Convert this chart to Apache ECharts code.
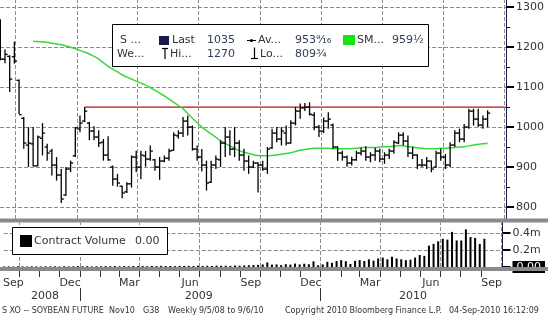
<!DOCTYPE html>
<html><head><meta charset="utf-8">
<script src="https://cdn.jsdelivr.net/npm/echarts@6/dist/echarts.min.js"></script>
<style>html,body{margin:0;padding:0;background:#fff}#c{width:548px;height:316px}</style>
</head><body><div id="c"></div>
<script>
// ---------- data (weekly bars, Soybean future Nov10) ----------
const firstWeek = '2008-09-08';
const opens = [
 1255,1170,1177,1176,1117,1022,955,958,903,972,
 950,940,905,880,830,895,928,995,1015,1010,
 990,975,962,930,900,870,852,838,858,925,
 900,928,920,918,900,915,922,942,978,985,
 1015,1000,945,925,905,862,905,918,960,975,
 945,960,930,915,900,910,905,895,948,985,
 970,985,960,1010,1040,1048,1050,1030,1000,990,
 1015,1005,950,935,925,910,918,935,940,925,
 930,940,920,930,940,960,980,965,935,930,
 905,905,915,900,935,925,905,955,985,970,
 1000,1040,1020,1005,1020];
const highs = [
 1270,1194,1180,1214,1119,1025,1000,1000,979,1010,
 958,946,925,895,900,916,1000,1029,1050,1013,
 1002,992,970,977,904,883,853,862,929,941,
 941,940,954,920,925,929,946,987,992,1025,
 1029,1004,954,945,916,916,929,967,1000,992,
 1000,967,946,929,916,912,916,950,996,1000,
 1000,1004,1017,1050,1059,1060,1062,1037,1005,1024,
 1037,1009,952,941,929,926,941,948,952,937,
 948,946,937,946,967,987,987,979,950,932,
 920,925,916,941,946,933,962,992,996,1008,
 1046,1046,1046,1029,1042];
const lows = [
 1167,1160,1088,1159,1033,946,900,902,902,929,
 916,879,866,809.75,828,887,925,987,1013,967,
 967,950,916,916,853,851,822,835,849,887,
 870,901,916,891,868,912,916,941,971,975,
 979,941,916,889,841,860,895,900,925,929,
 925,916,891,883,898,836,891,883,945,962,
 954,954,958,1004,1021,1040,1029,992,975,985,
 996,946,916,916,901,904,916,929,916,912,
 916,912,908,920,933,958,954,925,920,895,
 900,895,887,898,916,895,900,950,962,962,
 996,1004,1000,996,1000];
const closes = [
 1170,1182,1120,1165,1031,960,960,903,975,985,
 935,905,880,820,895,910,998,1010,1040,990,
 975,960,930,918,870,860,835,858,925,900,
 930,920,940,900,915,922,940,980,985,1015,
 1000,945,925,905,860,905,920,960,975,945,
 960,930,915,900,910,905,895,945,985,970,
 990,960,1010,1040,1048,1050,1032,1000,990,1015,
 1020,950,935,925,910,918,935,940,925,930,
 940,920,930,940,962,980,965,935,930,905,
 905,915,895,935,925,905,955,985,970,1000,
 1040,1020,1005,1020,1035];
const sma = [
 null,null,null,null,null,null,null,1215,1214,1213,
 1212,1210,1208,1206,1203,1200,1196,1192,1188,1183,
 1177,1170,1161,1152,1145,1138,1131,1125,1120,1115,
 1110,1105,1099,1092,1085,1078,1070,1062,1054,1046,
 1034,1022,1011,1000,991,983,974,966,959,953,
 947,941,937,934,931,929,928,928,929,930,
 932,934,936,939,942,944,946,947,947,947,
 947,946,946,946,946,946,947,949,949,949,
 949,950,951,951,952,954,953,951,950,948,
 947,946,946,946,947,947,948,949,950,951,
 953,955,957,958,959.5];
const volume = [ // millions of contracts
 0.006,0.007,0.006,0.008,0.007,0.006,0.008,0.007,0.006,0.008,
 0.007,0.008,0.006,0.009,0.007,0.008,0.010,0.008,0.009,0.007,
 0.009,0.008,0.010,0.009,0.011,0.008,0.010,0.009,0.012,0.010,
 0.011,0.009,0.012,0.010,0.013,0.011,0.012,0.010,0.014,0.012,
 0.013,0.011,0.015,0.013,0.014,0.012,0.016,0.014,0.015,0.013,
 0.017,0.015,0.018,0.020,0.022,0.025,0.030,0.053,0.028,0.030,
 0.022,0.032,0.028,0.040,0.030,0.038,0.032,0.066,0.020,0.030,
 0.060,0.048,0.070,0.080,0.068,0.035,0.072,0.080,0.070,0.090,
 0.075,0.100,0.110,0.090,0.120,0.100,0.090,0.080,0.085,0.110,
 0.140,0.130,0.250,0.270,0.300,0.330,0.320,0.410,0.310,0.310,
 0.440,0.350,0.340,0.270,0.330];
const resistance = 1050;
const resistanceFromWeek = 18;

// axis ticks / labels
const quarterLines = ['2008-10-01','2009-01-01','2009-04-01','2009-07-01','2009-10-01','2010-01-01','2010-04-01','2010-07-01','2010-10-01'];
const monthTickDates = ['2008-10-01','2008-11-01','2008-12-01','2009-01-01','2009-02-01','2009-03-01','2009-04-01','2009-05-01','2009-06-01','2009-07-01','2009-08-01','2009-09-01','2009-10-01','2009-11-01','2009-12-01','2010-01-01','2010-02-01','2010-03-01','2010-04-01','2010-05-01','2010-06-01','2010-07-01','2010-08-01','2010-09-01'];
const monthLabelDates = ['2008-09-22','2008-12-17','2009-03-17','2009-06-17','2009-09-17','2009-12-17','2010-03-17','2010-06-17','2010-09-17'];
const monthLabels = ['Sep','Dec','Mar','Jun','Sep','Dec','Mar','Jun','Sep'];
const yearLabelDates = ['2008-11-09','2009-06-30','2010-05-21'];
const yearLabels = ['2008','2009','2010'];
const yearSeparators = ['2009-01-01','2010-01-01'];
const priceTicks = [800,900,1000,1100,1200,1300];
const priceMinorTicks = [850,950,1050,1150,1250];
const volumeTicks = [0,0.2,0.4];

// legend texts
const legendRow1 = {name:'S ...', last:'Last', lastVal:'1035', avg:'Av...', avgVal:'953⁹⁄₁₆', sma:'SM...', smaVal:'959½'};
const legendRow2 = {name:'We...', hi:'Hi...', hiVal:'1270', lo:'Lo...', loVal:'809¾'};
const volLegend = {name:'Contract Volume', val:'0.00'};
const footerParts = [
 ['S XO -- SOYBEAN FUTURE  Nov10', 2], ['G38', 143], ['Weekly', 168], ['9/5/08 to 9/6/10', 199],
 ['Copyright 2010 Bloomberg Finance L.P.', 285], ['04-Sep-2010 16:12:09', 449]];

// ---------- build ----------
const DAY = 86400000;
const ts = s => Date.parse(s + 'T00:00:00Z');
const dates = opens.map((_, i) => ts(firstWeek) + i * 7 * DAY);
const xMin = ts('2008-09-07') + DAY / 2;
const xMax = xMin + 756 * DAY;
const FONT = 'DejaVu Sans';
const TXT = '#333';
const dash = () => ({type:'dashed', dashOffset:0, color:'#8c8c8c', width:1, opacity:1});

const ohlcData = dates.map((d, i) => [d, opens[i], closes[i], lows[i], highs[i]]);
const smaData = dates.map((d, i) => [d, sma[i]]);
const volData = dates.map((d, i) => [d, volume[i]]);
const resistanceData = [[dates[resistanceFromWeek], resistance], [xMax, resistance]];
const monthLabelTs = monthLabelDates.map(ts);
const yearLabelTs = yearLabelDates.map(ts);

function renderOHLC(params, api) {
  const x = api.value(0);
  const o = api.coord([x, api.value(1)]);
  const c = api.coord([x, api.value(2)]);
  const l = api.coord([x, api.value(3)]);
  const h = api.coord([x, api.value(4)]);
  const st = {stroke:'#000', lineWidth:1.3};
  return {type:'group', children:[
    {type:'line', shape:{x1:h[0], y1:h[1], x2:l[0], y2:l[1]}, style:st},
    {type:'line', shape:{x1:o[0]-2.6, y1:o[1], x2:o[0], y2:o[1]}, style:st},
    {type:'line', shape:{x1:c[0], y1:c[1], x2:c[0]+2.6, y2:c[1]}, style:st}
  ]};
}

const VAL = '#2d3f55';
const t = (text, x, y, fill) => ({type:'text', x, y, z:110,
  style:{text, fill:fill || TXT, font:'11px ' + FONT, verticalAlign:'middle', align:'left'}});
const ln = (x1, y1, x2, y2, w) => ({type:'line', z:110, shape:{x1,y1,x2,y2}, style:{stroke:'#000', lineWidth:w || 1}});

const graphics = [
  {type:'rect', z:100, shape:{x:0, y:218.5, width:548, height:4}, style:{fill:'#8a8a8a'}},
  {type:'rect', z:100, shape:{x:0, y:267, width:548, height:4}, style:{fill:'#8a8a8a'}},
  // main legend
  {type:'rect', z:105, shape:{x:112.5, y:24.5, width:316, height:42}, style:{fill:'#fff', stroke:'#000', lineWidth:1}},
  t(legendRow1.name, 120, 40.5),
  {type:'rect', z:110, shape:{x:159, y:36, width:10, height:9}, style:{fill:'#1a1a48'}},
  t(legendRow1.last, 172, 40.5),
  t(legendRow1.lastVal, 207, 40.5, VAL),
  ln(247, 40.5, 256, 40.5, 1),
  {type:'circle', z:111, shape:{cx:251.5, cy:40.5, r:1.6}, style:{fill:'#000'}},
  t(legendRow1.avg, 258, 40.5),
  t(legendRow1.avgVal, 295, 40.5, VAL),
  {type:'rect', z:110, shape:{x:343, y:35, width:12, height:10}, style:{fill:'#11e611'}},
  t(legendRow1.sma, 357, 40.5),
  t(legendRow1.smaVal, 392, 40.5, VAL),
  t(legendRow2.name, 117, 54),
  ln(162, 48.5, 168, 48.5, 1.2), ln(165, 48.5, 165, 59, 1.2),
  t(legendRow2.hi, 170, 54),
  t(legendRow2.hiVal, 207, 54, VAL),
  ln(254.5, 47.5, 254.5, 58.5, 1.2), ln(251, 58.5, 258, 58.5, 1.2),
  t(legendRow2.lo, 260, 54),
  t(legendRow2.loVal, 295, 54, VAL),
  // volume legend
  {type:'rect', z:105, shape:{x:12.5, y:227.5, width:155, height:27}, style:{fill:'#fff', stroke:'#000', lineWidth:1}},
  {type:'rect', z:110, shape:{x:20, y:235, width:12, height:12}, style:{fill:'#000'}},
  t(volLegend.name, 34, 241.5),
  t(volLegend.val, 135, 241.5)
];
footerParts.forEach(([s, x]) => graphics.push({type:'text', x, y:311, z:110,
  style:{text:s, fill:TXT, font:'8px ' + FONT, verticalAlign:'middle', align:'left'}}));

const chart = echarts.init(document.getElementById('c'), null, {renderer:'canvas'});
chart.setOption({
  animation:false,
  backgroundColor:'#fff',
  grid:[
    {left:0, top:0, width:506, height:219, show:false},
    {left:0, top:222.5, width:506, height:44.5, show:false}
  ],
  xAxis:[
    {gridIndex:0, type:'value', min:xMin, max:xMax, axisLine:{show:false}, axisTick:{show:false}, axisLabel:{show:false}, splitLine:{show:false}},
    {gridIndex:1, type:'value', min:xMin, max:xMax, position:'bottom',
      axisLine:{show:false},
      axisTick:{show:true, customValues:monthTickDates.map(ts), length:10, lineStyle:{color:'#333'}},
      axisLabel:{show:true, customValues:monthLabelTs, margin:11, color:TXT, fontSize:11, fontFamily:FONT,
        formatter:(v, i) => { const k = monthLabelTs.indexOf(v); return monthLabels[k >= 0 ? k : i]; }},
      splitLine:{show:false}},
    {gridIndex:1, type:'value', min:xMin, max:xMax, position:'bottom', offset:21,
      axisLine:{show:false},
      axisTick:{show:true, customValues:yearSeparators.map(ts), length:13, lineStyle:{color:'#333'}},
      axisLabel:{show:true, customValues:yearLabelTs, margin:3, color:TXT, fontSize:11, fontFamily:FONT,
        formatter:(v, i) => { const k = yearLabelTs.indexOf(v); return yearLabels[k >= 0 ? k : i]; }},
      splitLine:{show:false}}
  ],
  yAxis:[
    {gridIndex:0, type:'value', position:'right', min:770, max:1318,
      axisLine:{show:true, lineStyle:{color:'#1c1c4c', width:1}},
      axisTick:{show:true, customValues:priceTicks, length:8, lineStyle:{color:'#000', width:2}},
      axisLabel:{show:true, customValues:priceTicks, margin:10, color:TXT, fontSize:11, fontFamily:FONT,
        formatter:v => String(v)},
      splitLine:{show:false}},
    {gridIndex:1, type:'value', position:'right', min:0, max:0.52,
      axisLine:{show:true, lineStyle:{color:'#1c1c4c', width:1}},
      axisTick:{show:true, customValues:volumeTicks, length:8, lineStyle:{color:'#000', width:2}},
      axisLabel:{show:true, customValues:volumeTicks, margin:10, color:TXT, fontSize:11, fontFamily:FONT,
        formatter:v => v === 0 ? '{tag|' + volLegend.val + '}' : v.toFixed(1) + 'm',
        rich:{tag:{backgroundColor:'#000', color:'#fff', fontSize:11, fontFamily:FONT, padding:[1,4,0,4]}}},
      splitLine:{show:false}},
    {gridIndex:0, type:'value', position:'right', min:770, max:1318,
      axisLine:{show:false},
      axisTick:{show:true, customValues:priceMinorTicks, length:4, lineStyle:{color:'#000', width:1}},
      axisLabel:{show:false}, splitLine:{show:false}}
  ],
  series:[
    {type:'custom', name:'Price', xAxisIndex:0, yAxisIndex:0, renderItem:renderOHLC, data:ohlcData,
      encode:{x:0, y:[1,2,3,4]}, z:5, clip:true},
    {type:'line', name:'SMA', xAxisIndex:0, yAxisIndex:0, data:smaData, showSymbol:false, smooth:0.3,
      lineStyle:{color:'#3ad83a', width:1.5}, itemStyle:{color:'#3ad83a'}, connectNulls:false, z:4,
      markLine:{silent:true, symbol:['none','none'], label:{show:false}, animation:false,
        lineStyle:dash(), emphasis:{disabled:true},
        data:[
          ...quarterLines.map(d => [{coord:[ts(d), 770]}, {coord:[ts(d), 1318]}]),
          ...priceTicks.map(v => [{coord:[xMin, v]}, {coord:[xMax, v]}])
        ]}},
    {type:'line', name:'Resistance', xAxisIndex:0, yAxisIndex:0, data:resistanceData, showSymbol:false,
      lineStyle:{color:'#c01010', width:1.2, type:'solid'}, itemStyle:{color:'#c01010'}, z:3, silent:true},
    {type:'bar', name:'Contract Volume', xAxisIndex:1, yAxisIndex:1, data:volData, barWidth:2,
      itemStyle:{color:'#000'}, z:5,
      markLine:{silent:true, symbol:['none','none'], label:{show:false}, animation:false,
        lineStyle:dash(), emphasis:{disabled:true},
        data:[
          ...quarterLines.map(d => [{coord:[ts(d), 0]}, {coord:[ts(d), 0.52]}]),
          ...volumeTicks.filter(v => v > 0).map(v => [{coord:[xMin, v]}, {coord:[xMax, v]}])
        ]}}
  ],
  graphic:{elements:graphics}
});
</script></body></html>
